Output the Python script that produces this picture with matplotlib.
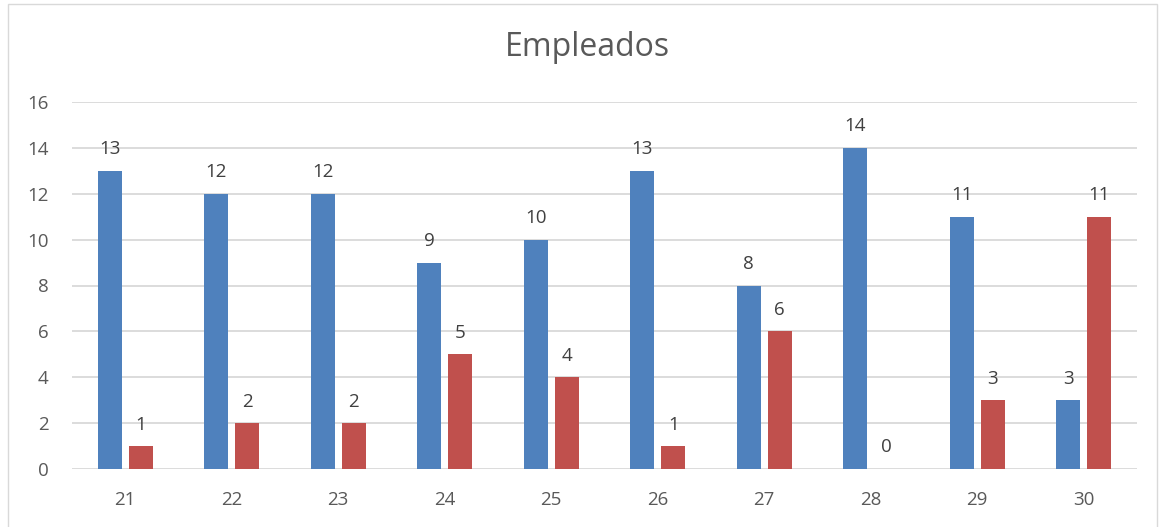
import matplotlib.pyplot as plt
import numpy as np

# Empleados por dia
dias = ["21", "22", "23", "24", "25", "26", "27", "28", "29", "30"]
serie1 = [13, 12, 12, 9, 10, 13, 8, 14, 11, 3]
serie2 = [1, 2, 2, 5, 4, 1, 6, 0, 3, 11]

plt.rcParams['font.family'] = ['Open Sans', 'DejaVu Sans']
texto = "#595959"

fig = plt.figure(figsize=(11.65, 5.27), dpi=100)
ax = fig.add_axes([72 / 1165, 1 - 469 / 527, (1137 - 72) / 1165, (469 - 102) / 527])

x = np.arange(len(dias))
ancho = 0.226
desp = 0.146
b1 = ax.bar(x - desp, serie1, ancho, color="#4F81BD", zorder=3)
b2 = ax.bar(x + desp, serie2, ancho, color="#C0504D", zorder=3)

for barras in (b1, b2):
    for b in barras:
        ax.annotate(str(int(b.get_height())), (b.get_x() + b.get_width() / 2, b.get_height()),
                    xytext=(0, 9), textcoords="offset points", ha="center", va="bottom",
                    fontsize=13.5, color="#404040")

ax.set_xlim(-0.5, len(dias) - 0.5)
ax.set_ylim(0, 16)
ax.set_yticks(range(0, 17, 2))
ax.set_xticks(x)
ax.set_xticklabels(dias)
ax.grid(axis="y", color="#D9D9D9", linewidth=1.3, zorder=0)
for s in ax.spines.values():
    s.set_visible(False)
ax.tick_params(length=0, labelsize=13.5, labelcolor=texto)
ax.tick_params(axis="x", pad=16)
ax.tick_params(axis="y", pad=17)
for lbl in ax.get_yticklabels():
    lbl.set_horizontalalignment("right")

fig.text(587 / 1165, 1 - 48 / 527, "Empleados", ha="center", va="center",
         fontsize=23, color=texto)

# borde del grafico
fig.patches.append(plt.Rectangle((8 / 1165, -0.01), (1157 - 8) / 1165, 1 - 4 / 527 + 0.01,
                                 transform=fig.transFigure, fill=False,
                                 edgecolor="#D9D9D9", linewidth=1))

fig.savefig("out.png", dpi=100)
